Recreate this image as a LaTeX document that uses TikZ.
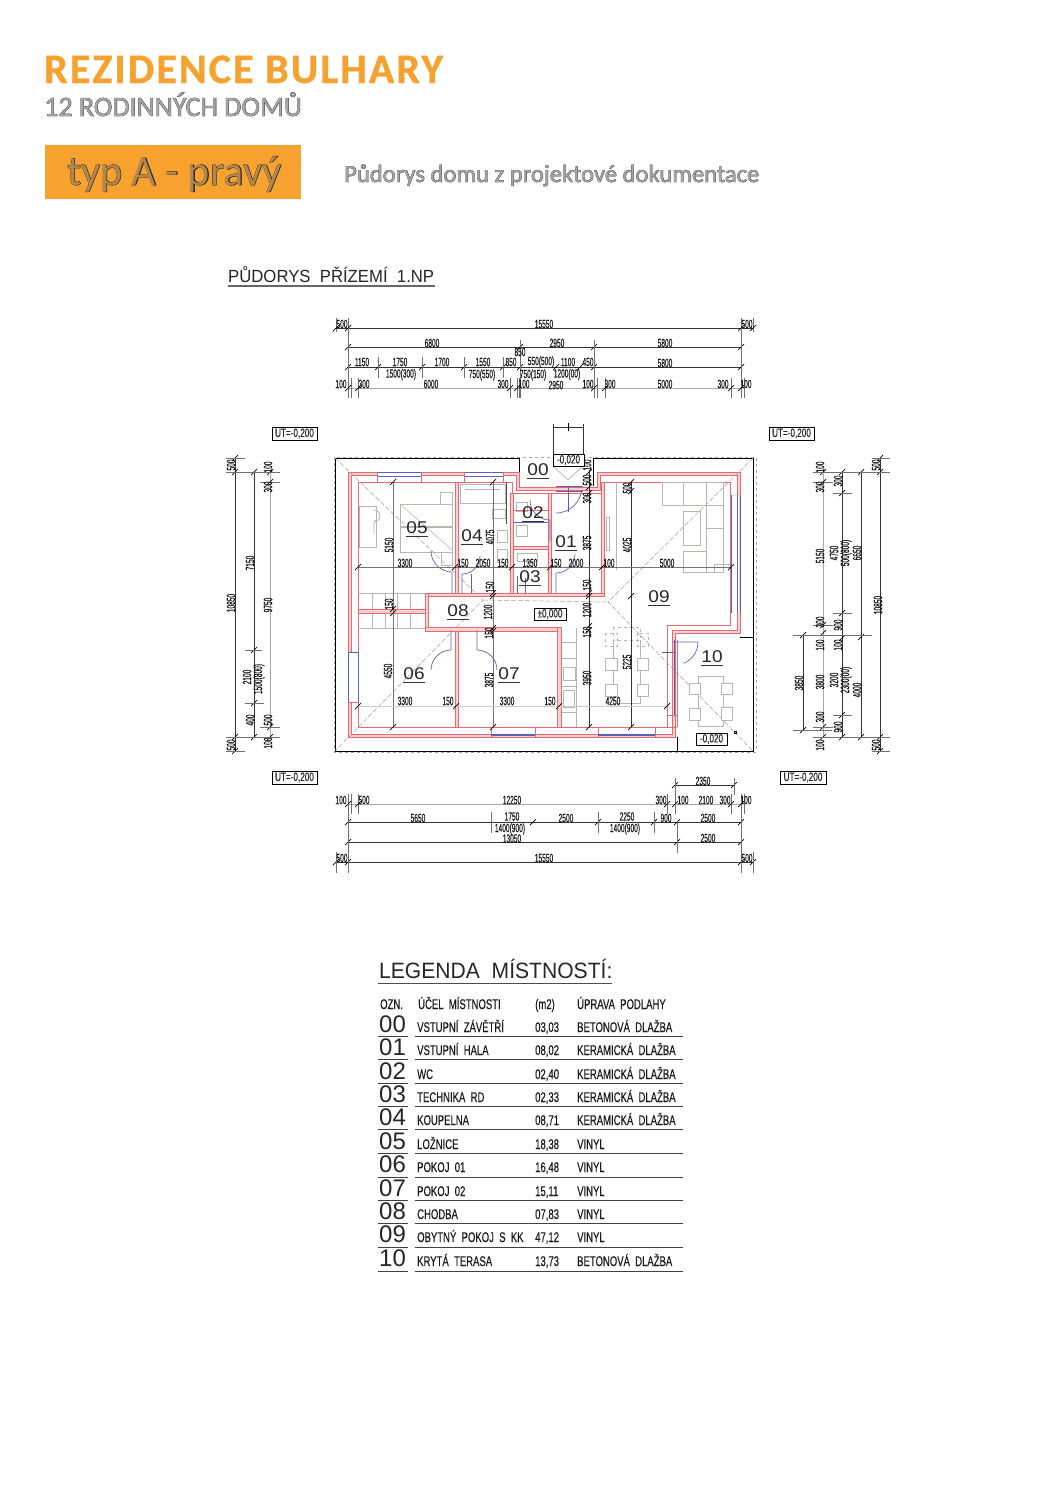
\documentclass[tikz,border=0pt]{standalone}
\usepackage{fontspec}
\setmainfont{Liberation Sans}
\newfontfamily\cadN[FakeStretch=0.55,FakeBold=0.25]{Liberation Sans}
\newfontfamily\cadT[FakeStretch=0.68,FakeBold=0.2]{Liberation Sans}
\newfontfamily\cadW[FakeStretch=1.12]{Liberation Sans}
\newfontfamily\cadM[FakeStretch=0.95]{Liberation Sans}
\newfontfamily\cadL[FakeStretch=1.0]{Liberation Sans}
\newfontfamily\hdrB[LetterSpace=5,FakeBold=0.8]{Carlito Bold}
\newfontfamily\hdr{Carlito}
\newfontfamily\hdrO[FakeBold=1.6]{Carlito}
\definecolor{orng}{HTML}{F7A12F}
\definecolor{wallred}{HTML}{E66A72}
\definecolor{wallpink}{HTML}{F7D0D1}
\definecolor{winblue}{HTML}{5A62B8}
\definecolor{furn}{HTML}{B9B5B3}
\definecolor{dimline}{HTML}{333333}
\definecolor{dimlight}{HTML}{A8A8A8}
\definecolor{outl}{HTML}{3A3A3A}
\newcommand{\sz}[1]{\fontsize{#1}{#1}\selectfont}
\tikzset{
  wall/.style={draw=wallred,fill=wallpink,line width=0.7pt},
  redline/.style={draw=wallred,line width=0.7pt},
  win/.style={draw=winblue,line width=0.8pt},
  winthick/.style={draw=winblue,line width=1.6pt},
  door/.style={draw=winblue,line width=0.7pt},
  fur/.style={draw=furn,line width=0.8pt},
  furd/.style={draw=furn,line width=0.7pt,dashed},
  ridge/.style={draw=black!38,line width=0.5pt,dash pattern=on 5pt off 2pt},
  dl/.style={draw=dimline,line width=0.75pt},
  dlg/.style={draw=dimlight,line width=0.8pt},
  dli/.style={draw=black!55,line width=0.6pt},
  dlf/.style={draw=black!20,line width=0.5pt},
  ext/.style={draw=dimline!70,line width=0.45pt},
  tick/.style={draw=black,line width=0.7pt},
  dimtxt/.style={font=\cadN\sz{12},text=black!90,inner sep=0pt},
  dimrot/.style={dimtxt,rotate=90},
  room/.style={font=\cadW\sz{17},text=black!85,inner sep=0pt,anchor=base},
  leg/.style={font=\cadT\sz{14},text=black!90,inner sep=0pt,anchor=base west},
  legnum/.style={font=\cadL\sz{24},text=black!85,inner sep=0pt,anchor=base west},
  elev/.style={draw=black,line width=0.6pt,fill=white,font=\cadT\sz{12},inner sep=0pt,text=black!85},
  rule/.style={draw=black!75,line width=0.8pt},
}
\newcommand{\Tk}[2]{\draw[tick] ({#1-3},{#2+3}) -- ({#1+3},{#2-3});}
\newcommand{\HD}[5][dl]{% style, y, x1, x2, ticks
  \draw[#1] (#3,#2) -- (#4,#2);
  \foreach \tx in {#5}{\Tk{\tx}{#2}}}
\newcommand{\VD}[5][dl]{% style, x, y1, y2, ticks
  \draw[#1] (#2,#3) -- (#2,#4);
  \foreach \ty in {#5}{\Tk{#2}{\ty}}}
\newcommand{\Rm}[4]{% name x base label
  \node[room] (#1) at (#2,#3) {#4};
  \draw[black!80,line width=0.7pt] ({#2-11},{#3+3}) -- ({#2+11},{#3+3});}
\begin{document}
\begin{tikzpicture}[x=1pt,y=-1pt]
\useasboundingbox (0,0) rectangle (1058,1497);
\fill[white] (0,0) rectangle (1058,1497);

% ---------- header
\node[font=\hdrB\sz{42},text=orng,anchor=base west,inner sep=0pt] (title) at (44,83) {REZIDENCE BULHARY};
\node[font=\hdrO\sz{28},text=outl,anchor=base west,inner sep=0pt] (subO) at (44,116) {12 RODINNÝCH DOMŮ};
\node[font=\hdr\sz{28},text=black!35,anchor=base west,inner sep=0pt] (sub) at (44,116) {12 RODINNÝCH DOMŮ};
\fill[orng] (45,145) rectangle (301,199);
\node[font=\hdrO\sz{42},text=black!85,anchor=base west,inner sep=0pt] (typO) at (67,185) {typ A - pravý};
\node[font=\hdr\sz{42},text=orng!65!black!80,anchor=base west,inner sep=0pt] (typ) at (67,185) {typ A - pravý};
\node[font=\hdrO\sz{24.6},text=outl,anchor=base west,inner sep=0pt] (pdO) at (344,182) {Půdorys domu z projektové dokumentace};
\node[font=\hdr\sz{24.6},text=black!35,anchor=base west,inner sep=0pt] (pd) at (344,182) {Půdorys domu z projektové dokumentace};

% ---------- plan title
\node[font=\cadM\sz{17.6},text=black!85,anchor=base west,inner sep=0pt] (ptitle) at (228,282) {PŮDORYS\ \ PŘÍZEMÍ\ \ 1.NP};
\draw[black!60,line width=1.4pt] (228,286) -- (435,286);

% ---------- roof outline
\draw[draw=black!35,line width=0.7pt,dashed] (334,457) rectangle (756,752);
\draw[black,line width=1pt] (519,458) -- (335,458) -- (335,751) -- (753,751) -- (753,458) -- (593,458) -- (593,486);
\draw[black,line width=0.8pt] (519,458) -- (519,486);
\draw[black,line width=0.8pt] (677,737) -- (677,751);
\draw[black,line width=0.8pt] (740,637) -- (753,637);
\draw[furn,line width=0.7pt] (553,466) -- (568,480) -- (583,466);

% ---------- outer walls
\path[fill=wallpink,redline] (348,472) -- (519,472) -- (519,487) -- (597,487) -- (597,472) -- (740,472) -- (740,633) -- (675,633) -- (675,737) -- (348,737) -- cycle;
\path[fill=white,redline] (351,475) -- (516,475) -- (516,490) -- (600,490) -- (600,475) -- (737,475) -- (737,630) -- (672,630) -- (672,734) -- (351,734) -- cycle;
\path[redline] (358,482) -- (512,482) -- (512,493) -- (603,493) -- (603,482) -- (730,482) -- (730,625) -- (667,625) -- (667,727) -- (358,727) -- cycle;

% ---------- roof ridges (over the floor)
\draw[ridge] (335,458) -- (483,600) -- (335,751);
\draw[ridge] (753,458) -- (608,602) -- (753,751);
\draw[ridge] (483,600) -- (608,602);

% ---------- furniture
\draw[fur] (400,504) rectangle (452,552);
\draw[furn,line width=1.6pt] (400,527) -- (452,527);
\draw[furn,line width=0.6pt] (400,504) -- (452,550);
\draw[fur] (440,492) rectangle (452,504);
\draw[fur] (441,552) rectangle (452,565);
\draw[fur] (359,506) rectangle (376,547);
\draw[fur] (374,522) arc[start angle=90,end angle=-90,radius=6];
\draw[fur] (376,520) -- (374,522) -- (374,534);
\draw[fur] (460,484) rectangle (505,503);
\draw[fur] (465,489) -- (500,489);
\draw[fur] (492,509) rectangle (505,518);
\draw[fur] (497,530) rectangle (507,542);
\draw[fur] (497,549) rectangle (507,562);
\draw[black!70,line width=1pt] (506,482) -- (506,524);
\draw[fur] (516,502) rectangle (527,511);
\draw[fur] (516,525) rectangle (527,536);
\draw[fur] (517,553) rectangle (537,561);
\draw[fur] (606,517) rectangle (609,550);
\draw[fur] (616,482) -- (616,570);
\draw[fur] (662,482) -- (723,482) -- (723,572) -- (683,572) -- (683,551) -- (706,551) -- (706,528) -- (723,528);
\draw[fur] (662,482) -- (662,505) -- (723,505);
\draw[fur] (683,482) -- (683,505);
\draw[fur] (706,482) -- (706,572);
\draw[fur] (683,511) rectangle (700,545);
\draw[fur] (714,572) -- (714,564) -- (730,564);
% dining
\draw[furd] (613,627) rectangle (640,640);
\draw[fur] (613,640) -- (613,703) -- (640,703) -- (640,640);
\draw[furd] (605,633) rectangle (617,646);
\draw[furd] (637,633) rectangle (648,646);
\draw[fur,fill=white] (605,658) rectangle (617,670);
\draw[fur,fill=white] (637,658) rectangle (648,670);
\draw[fur,fill=white] (605,684) rectangle (617,696);
\draw[fur,fill=white] (637,684) rectangle (648,696);
% terrace
\draw[fur] (698,676) rectangle (723,726);
\draw[fur,fill=white] (689,683) rectangle (700,694);
\draw[fur,fill=white] (721,683) rectangle (732,694);
\draw[fur,fill=white] (689,708) rectangle (700,720);
\draw[fur,fill=white] (721,707) rectangle (732,720);
% kitchen
\draw[fur] (576,628) -- (576,727);
\foreach \yy in {642,658,686,712}{\draw[fur] (561,\yy) -- (576,\yy);}
\draw[fur] (563,667) rectangle (575,680);
\draw[fur] (563,690) rectangle (574,707);
% stairs
\foreach \xx in {372,385,397,410}{\draw[fur] (\xx,593) -- (\xx,609); \draw[fur] (\xx,613) -- (\xx,628);}
\draw[fur] (358,593) -- (425,593);
\draw[fur] (358,628) -- (425,628);

% ---------- interior walls
\path[wall] (455,482) rectangle (458,593);
\path[wall] (510,493) rectangle (513,593);
\path[wall] (513,546) rectangle (551,549);
\path[wall] (548,493) rectangle (551,593);
\path[wall] (601,482) rectangle (604,593);
\path[wall] (425,593) rectangle (604,596);
\path[wall] (425,593) rectangle (428,631);
\path[wall] (358,609) rectangle (425,613);
\path[wall] (425,627) rectangle (560,631);
\path[wall] (455,631) rectangle (458,727);
\path[wall] (557,627) rectangle (561,727);
\path[redline] (513,510) -- (548,510);
\draw[redline] (667,625) -- (667,640);

% ---------- windows
\foreach \xa/\xb in {377/421,464/503}{
  \fill[white] (\xa,473) rectangle (\xb,482);
  \draw[win] (\xa,472) -- (\xb,472);
  \draw[win] (\xa,476) -- (\xb,476);
  \draw[redline] (\xa,472) -- (\xa,482) (\xb,472) -- (\xb,482);
}
\fill[white] (349,652) rectangle (358,702);
\draw[win] (348,652) -- (348,702);
\draw[win] (358,652) -- (358,702);
\draw[win] (349,652) -- (358,652);
\draw[redline] (349,702) -- (358,702);
\foreach \xa/\xb in {491/535,598/655}{
  \fill[white] (\xa,728) rectangle (\xb,736);
  \draw[redline] (\xa,727) rectangle (\xb,737);
  \draw[winthick] (\xa,735) -- (\xb,735);
}
\fill[white] (731,495) rectangle (739,613);
\draw[win] (731,495) -- (731,613);
\draw[win] (737,495) -- (737,613);
\draw[win] (740,495) -- (740,613);
\draw[win] (556,486) -- (583,486);
\draw[win] (556,491) -- (583,491);
\draw[win] (674,640) -- (674,715);
\draw[win] (677,640) -- (677,715);
\draw[redline] (667,715) -- (677,715);
\draw[redline] (677,640) -- (677,727);
\draw[redline] (667,727) -- (677,727);

% ---------- doors
\draw[door] (452,593) -- (452,572) arc[start angle=90,end angle=180,radius=21];
\draw[door] (462,593) -- (462,574) arc[start angle=90,end angle=0,radius=18];
\draw[door] (471,574) -- (471,593);
\draw[door] (517,593) -- (517,576);
\draw[door] (525,578) -- (525,593);
\draw[door] (556,593) -- (556,573) arc[start angle=90,end angle=0,radius=19];
\draw[door] (550,541) -- (550,520) arc[start angle=90,end angle=180,radius=20];
\draw[door] (568,486) -- (568,512);
\draw[door] (556,513) .. controls (568,513) and (579,505) .. (582,490);
\draw[door] (451,630) -- (451,650) arc[start angle=-90,end angle=-180,radius=20];
\draw[door] (477,630) -- (477,650) arc[start angle=-90,end angle=0,radius=20];
\draw[door] (673,642) -- (698,642) arc[start angle=0,end angle=68,radius=23];
\draw[door] (662,652) -- (675,652);
\draw[win] (513,522) -- (548,522);

% ---------- interior dimensions
\VD[dli]{393}{482}{727}{482,609,613,727}
\VD[dli]{493}{482}{727}{482,593,596,628,631,727}
\VD[dl]{589}{470}{727}{472,487,493,593,596,626,630,727}
\VD[dl]{631}{482}{727}{482,491,596,727}
\HD[dli]{567}{358}{731}{358,455,512,550,602,731}
\HD[dlf]{706}{358}{667}{358,456,559,667}
\foreach \nm/\xx/\yy/\lbl in {t1/405/563/3300,t2/463/563/150,t3/483/563/2050,t4/503/563/150,t5/530/563/1350,t6/556/563/150,t7/576/563/2000,t8/609/563/100,t9/667/563/5000,
  t10/405/701/3300,t11/448/701/150,t12/507/701/3300,t13/550/701/150,t14/613/701/4250}
  {\node[dimtxt] (\nm) at (\xx,\yy) {\lbl};}
\foreach \nm/\xx/\yy/\lbl in {v1/389/545/5150,v2/389/604/150,v3/388/671/4550,
  v4/490/537/4075,v5/490/587/150,v6/488/612/1200,v7/489/633/150,v8/489/680/3875,
  v9/587/465/100,v10/587/480/500,v11/587/498/300,v12/587/543/3875,v13/587/585/150,v14/587/610/1200,v15/587/632/150,v16/587/678/3950,
  v17/627/488/500,v18/627/545/4025,v19/627/662/5225}
  {\node[dimrot] (\nm) at (\xx,\yy) {\lbl};}

% ---------- room labels
\Rm{r00}{538}{475}{00}
\Rm{r01}{566}{547}{01}
\Rm{r02}{533}{518}{02}
\Rm{r03}{530}{582}{03}
\Rm{r04}{472}{541}{04}
\Rm{r05}{417}{533}{05}
\Rm{r06}{414}{679}{06}
\Rm{r07}{509}{679}{07}
\Rm{r08}{458}{616}{08}
\Rm{r09}{659}{602}{09}
\Rm{r10}{712}{662}{10}

% ---------- elevation boxes
\node[elev,minimum width=31pt,minimum height=12pt] (e1) at (568.5,460) {-0,020};
\node[elev,minimum width=32pt,minimum height=12pt] (e2) at (550,614) {±0,000};
\node[elev,minimum width=31pt,minimum height=12pt] (e3) at (711.5,739) {-0,020};
\draw[black,line width=0.5pt] (734,731) rectangle (736,733);
\node[elev,minimum width=45pt,minimum height=13pt] (u1) at (294.5,433.5) {UT=-0,200};
\node[elev,minimum width=45pt,minimum height=13pt] (u2) at (294.5,777.5) {UT=-0,200};
\node[elev,minimum width=45pt,minimum height=13pt] (u3) at (791.5,433.5) {UT=-0,200};
\node[elev,minimum width=46pt,minimum height=13pt] (u4) at (803,777.5) {UT=-0,200};
\draw[dl] (553,427) -- (583,427);
\draw[dl] (553,424) -- (553,454) (583,424) -- (583,454);
\draw[tick] (568,423) -- (568,431);

% ---------- top dimensions
\foreach \xx in {336,348,741,753}{\draw[ext] (\xx,318) -- (\xx,332);}
\HD{328}{336}{753}{348,741}
\Tk{336}{328}\Tk{753}{328}
\HD{347}{348}{741}{348,520,594,741}
\HD{367}{348}{741}{348,378,422,464,503,520,556,580,594,741}
\foreach \xx in {378,422,464,503}{\draw[ext] (\xx,357) -- (\xx,378);}
\draw[ext] (348,328) -- (348,398);
\draw[ext] (741,328) -- (741,398);
\draw[ext] (520,340) -- (520,398);
\draw[ext] (594,340) -- (594,398);
\draw[dlg] (348,388) -- (741,388);
\foreach \xx in {348,351,358,510,517,519,594,597,605,731,741,744}{\draw[ext] (\xx,378) -- (\xx,398);}
\foreach \xx in {348,358,510,517,594,605,731,741}{\Tk{\xx}{388}}
\foreach \nm/\xx/\yy/\lbl in {a1/342/324/500,a2/544/324/15550,a3/747/324/500,
  b1/432/343/6800,b2/557/343/2950,b3/665/343/5800,
  c1/362/362/1150,c2/400/362/1750,c3/442/362/1700,c4/483/362/1550,c5/511/362/850,c6/520/352/850,c7/541/362/550(500),c8/568/362/1100,c9/588/362/450,c10/665/363/5800,
  d1/401/374.5/1500(300),d2/482/375/750(550),d3/533/375/750(150),d4/567/374.5/1200(00),
  e1t/341/384/100,e2t/364/384/300,e3t/431/384/6000,e4t/503/384/300,e5t/524/384/100,e6t/556/385/2950,e7t/588/384/100,e8t/610/384/300,e9t/665/384/5000,e10t/723/384/300,e11t/746/384/100}
  {\node[dimtxt] (\nm) at (\xx,\yy) {\lbl};}

% ---------- bottom dimensions
\HD{785}{675}{734}{675,734}
\foreach \xx in {675,734}{\draw[ext] (\xx,778) -- (\xx,795);}
\draw[dlg] (348,804) -- (741,804);
\foreach \xx in {348,351,358,667,675,731,741,744}{\draw[ext] (\xx,794) -- (\xx,814);}
\foreach \xx in {348,358,667,675,731,741}{\Tk{\xx}{804}}
\HD{822}{348}{741}{348,533,598,654,677,741}
\foreach \xx in {491,598,654}{\draw[ext] (\xx,812) -- (\xx,833);}
\HD{842}{348}{741}{348,677,741}
\HD{862}{336}{753}{336,348,741,753}
\foreach \xx in {336,348,741,753}{\draw[ext] (\xx,852) -- (\xx,873);}
\draw[ext] (348,804) -- (348,862);
\draw[ext] (741,804) -- (741,862);
\draw[ext] (677,822) -- (677,853);
\foreach \nm/\xx/\yy/\lbl in {f1/703/781/2350,
  g1/341/800/100,g2/364/800/500,g3/512/800/12250,g4/661/800/300,g5/683/800/100,g6/706/800/2100,g7/725/800/300,g8/746/800/100,
  h1/418/818/5650,h2/512/816.5/1750,h3/510/829/1400(900),h4/566/818/2500,h5/627/816.5/2250,h6/625/829/1400(900),h7/666/818/900,h8/708/818/2500,
  i1/512/838.5/13050,i2/708/838/2500,
  j1/342/858/500,j2/544/858/15550,j3/747/858/500}
  {\node[dimtxt] (\nm) at (\xx,\yy) {\lbl};}

% ---------- left dimensions
\VD{235}{458}{751}{458,472,737,751}
\VD{254}{472}{737}{472,650,703,737}
\draw[dlg] (270,472) -- (270,737);
\foreach \ty in {472,482,727,737}{\Tk{270}{\ty}}
\foreach \yy in {458,472,737,751}{\draw[ext] (226,\yy) -- (245,\yy);}
\draw[ext] (235,472) -- (280,472);
\draw[ext] (235,737) -- (280,737);
\draw[ext] (260,482) -- (280,482);
\draw[ext] (260,727) -- (280,727);
\draw[ext] (245,650) -- (262,650);
\draw[ext] (245,703) -- (264,703);
\foreach \nm/\xx/\yy/\lbl in {k1/231/465/500,k2/231/603/10850,k3/231/745/500,
  l1/250/563/7150,l2/247/677/2100,l3/259/679/1500(800),l4/250/720/400,
  m1/268/467/100,m2/268/487/300,m3/268/605/9750,m4/268/720/500,m5/268/743/100}
  {\node[dimrot] (\nm) at (\xx,\yy) {\lbl};}

% ---------- right dimensions
\draw[dlg] (823,472) -- (823,737);
\foreach \ty in {472,482,625,633,727,737}{\Tk{823}{\ty}}
\VD{842}{472}{737}{472,493,613,638,715,737}
\VD{861}{472}{737}{472,637,737}
\VD{880}{458}{751}{458,472,737,751}
\VD{803}{635}{730}{635,730}
\foreach \yy in {472,737}{\draw[ext] (813,\yy) -- (890,\yy);}
\draw[ext] (872,458) -- (890,458);
\draw[ext] (872,751) -- (890,751);
\draw[ext] (793,635) -- (872,635);
\draw[ext] (793,730) -- (832,730);
\foreach \yy in {482,625,727}{\draw[ext] (813,\yy) -- (833,\yy);}
\foreach \yy in {493,613,715}{\draw[ext] (833,\yy) -- (852,\yy);}
\foreach \nm/\xx/\yy/\lbl in {n1/820/467/100,n2/820/487/300,n3/820/556/5150,n4/820/622/300,n5/820/645/100,n6/820/682/3800,n7/820/717/300,n8/820/745/100,
  o1/838/481/300,o2/834/553/4750,o3/846/553/500(800),o4/838/625/900,o5/838/645/100,o6/834/680/3200,o7/846/680/2300(00),o8/838/727/900,
  p1/857/553/6650,p2/857/690/4000,
  q1/876/465/500,q2/878/605/10850,q3/876/745/500,
  s1/799/683/3850}
  {\node[dimrot] (\nm) at (\xx,\yy) {\lbl};}

% ---------- legend
\node[font=\cadM\sz{22.2},text=black!85,anchor=base west,inner sep=0pt] (lt) at (379,978) {LEGENDA\ \ MÍSTNOSTÍ:};
\draw[black!70,line width=1pt] (378,983) -- (612,983);
\node[leg] (h1x) at (380,1009) {OZN.};
\node[leg] (h2x) at (418,1009) {ÚČEL\ \ MÍSTNOSTI};
\node[leg] (h3x) at (535,1009) {(m2)};
\node[leg] (h4x) at (577,1009) {ÚPRAVA\ \ PODLAHY};
\foreach \nm/\yy/\lny/\num/\ca/\cb/\cc in {
  0/1032/1036/00/{VSTUPNÍ\ \ ZÁVĚTŘÍ}/{03,03}/{BETONOVÁ\ \ DLAŽBA},
  1/1055/1059/01/{VSTUPNÍ\ \ HALA}/{08,02}/{KERAMICKÁ\ \ DLAŽBA},
  2/1079/1083/02/{WC}/{02,40}/{KERAMICKÁ\ \ DLAŽBA},
  3/1102/1106/03/{TECHNIKA\ \ RD}/{02,33}/{KERAMICKÁ\ \ DLAŽBA},
  4/1125/1129/04/{KOUPELNA}/{08,71}/{KERAMICKÁ\ \ DLAŽBA},
  5/1149/1153/05/{LOŽNICE}/{18,38}/{VINYL},
  6/1172/1177/06/{POKOJ\ \ 01}/{16,48}/{VINYL},
  7/1196/1200/07/{POKOJ\ \ 02}/{15,11}/{VINYL},
  8/1219/1223/08/{CHODBA}/{07,83}/{VINYL},
  9/1242/1247/09/{OBYTNÝ\ \ POKOJ\ \ S\ \ KK}/{47,12}/{VINYL},
  10/1266/1271/10/{KRYTÁ\ \ TERASA}/{13,73}/{BETONOVÁ\ \ DLAŽBA}}
{
  \node[legnum] (ln\nm) at (379,\yy) {\num};
  \node[leg] (la\nm) at (417,\yy) {\ca};
  \node[leg] (lb\nm) at (535,\yy) {\cb};
  \node[leg] (lc\nm) at (577,\yy) {\cc};
  \draw[rule] (378,\lny) -- (408,\lny);
  \draw[rule] (415,\lny) -- (683,\lny);
}
\end{tikzpicture}
\end{document}
